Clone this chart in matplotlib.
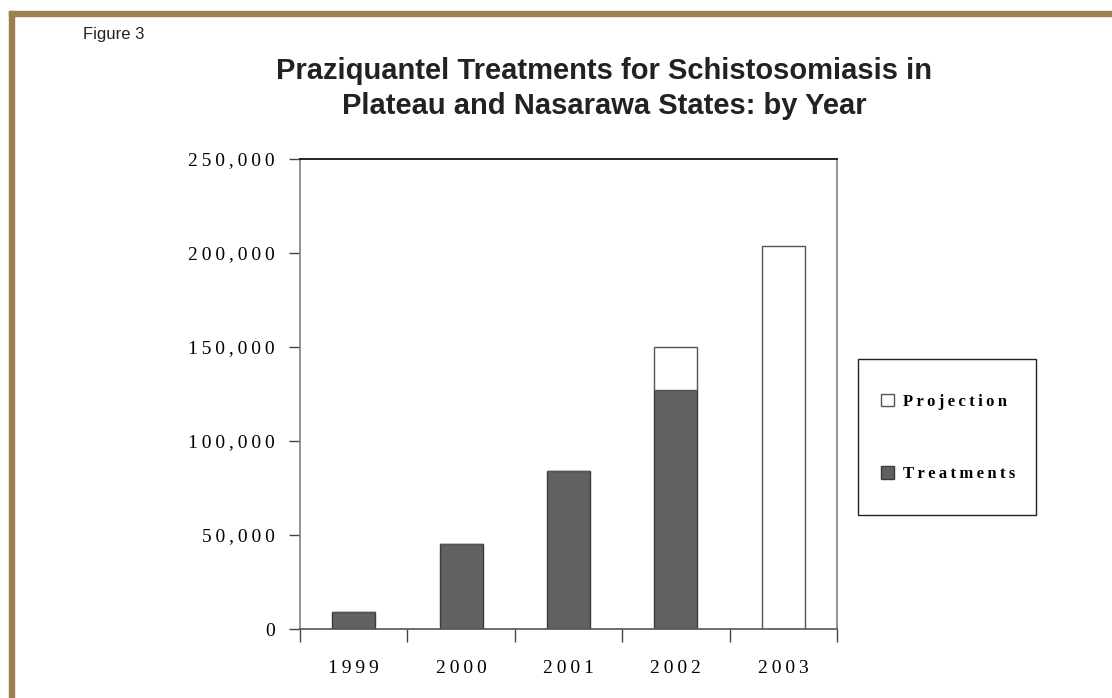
import matplotlib.pyplot as plt
import numpy as np
from matplotlib.patches import Rectangle

years = ['1999', '2000', '2001', '2002', '2003']
treatments = [9000, 45000, 84000, 127000, 0]
projection_extra = [0, 0, 0, 23000, 203500]
y_ticks = [0, 50000, 100000, 150000, 200000, 250000]

tan = '#9c7f52'
bar_gray = '#616161'
serif = ['Liberation Serif', 'DejaVu Serif']
sans = ['Liberation Sans', 'DejaVu Sans']


def spaced(s):
    # the original has loose letter spacing
    return '\u2009'.join(s)


fig = plt.figure(figsize=(11.12, 6.98), dpi=100)

# tan frame on top and left
fig.patches.append(Rectangle((9 / 1112, 0), 5 / 1112, 1 - 11 / 698,
                             transform=fig.transFigure, color=tan, zorder=0))
fig.patches.append(Rectangle((9 / 1112, 1 - 16 / 698), 1, 5 / 698,
                             transform=fig.transFigure, color=tan, zorder=0))

fig.text(83 / 1112, 1 - 35 / 698, 'Figure 3', fontsize=12, family=sans,
         va='center', ha='left', color='#222222')
fig.text(604 / 1112, 1 - 57 / 698,
         'Praziquantel Treatments for Schistosomiasis in\nPlateau and Nasarawa States: by Year',
         fontsize=21, fontweight='bold', family=sans, ha='center', va='top',
         linespacing=1.33, color='#222222')

ax = fig.add_axes([300 / 1112, 1 - 629 / 698, 537 / 1112, 470 / 698])
x = np.arange(len(years))
ax.bar(x, treatments, width=0.4, color=bar_gray, edgecolor='#3a3a3a', linewidth=1,
       label='Treatments', zorder=2)
ax.bar(x, projection_extra, width=0.4, bottom=treatments, color='white',
       edgecolor='#555555', linewidth=1, label='Projection', zorder=2)

ax.set_xlim(-0.5, len(years) - 0.5)
ax.set_ylim(0, 250000)
ax.set_yticks(y_ticks)
ax.set_yticklabels([spaced(f'{v:,}') for v in y_ticks], family=serif, fontsize=14)
ax.set_xticks(x)
ax.set_xticklabels([spaced(y) for y in years], family=serif, fontsize=14)
ax.set_xticks(np.arange(-0.5, len(years)), minor=True)
ax.tick_params(axis='x', which='major', length=0, pad=22)
ax.tick_params(axis='x', which='minor', length=9, width=1, color='#444444', direction='out')
ax.tick_params(axis='y', length=8, width=1, color='#444444', pad=10)

ax.spines['top'].set_color('black')
ax.spines['left'].set_color('#808080')
ax.spines['right'].set_color('#808080')
ax.spines['bottom'].set_color('#555555')
for s in ax.spines.values():
    s.set_linewidth(1.2)

# legend box
fig.patches.append(Rectangle((858 / 1112, 1 - 515 / 698), 178 / 1112, 156 / 698,
                             transform=fig.transFigure, facecolor='white',
                             edgecolor='#222222', linewidth=1, zorder=1))
handles, labels = ax.get_legend_handles_labels()
leg = fig.legend(handles[::-1], [spaced(l) for l in labels[::-1]],
                 loc='center', bbox_to_anchor=(948 / 1112, 1 - 438 / 698),
                 frameon=False, prop={'family': serif, 'weight': 'bold', 'size': 12},
                 handlelength=0.8, handleheight=0.8, handletextpad=0.5,
                 labelspacing=3.4)
leg.set_zorder(3)

fig.savefig('out.png', dpi=100)
